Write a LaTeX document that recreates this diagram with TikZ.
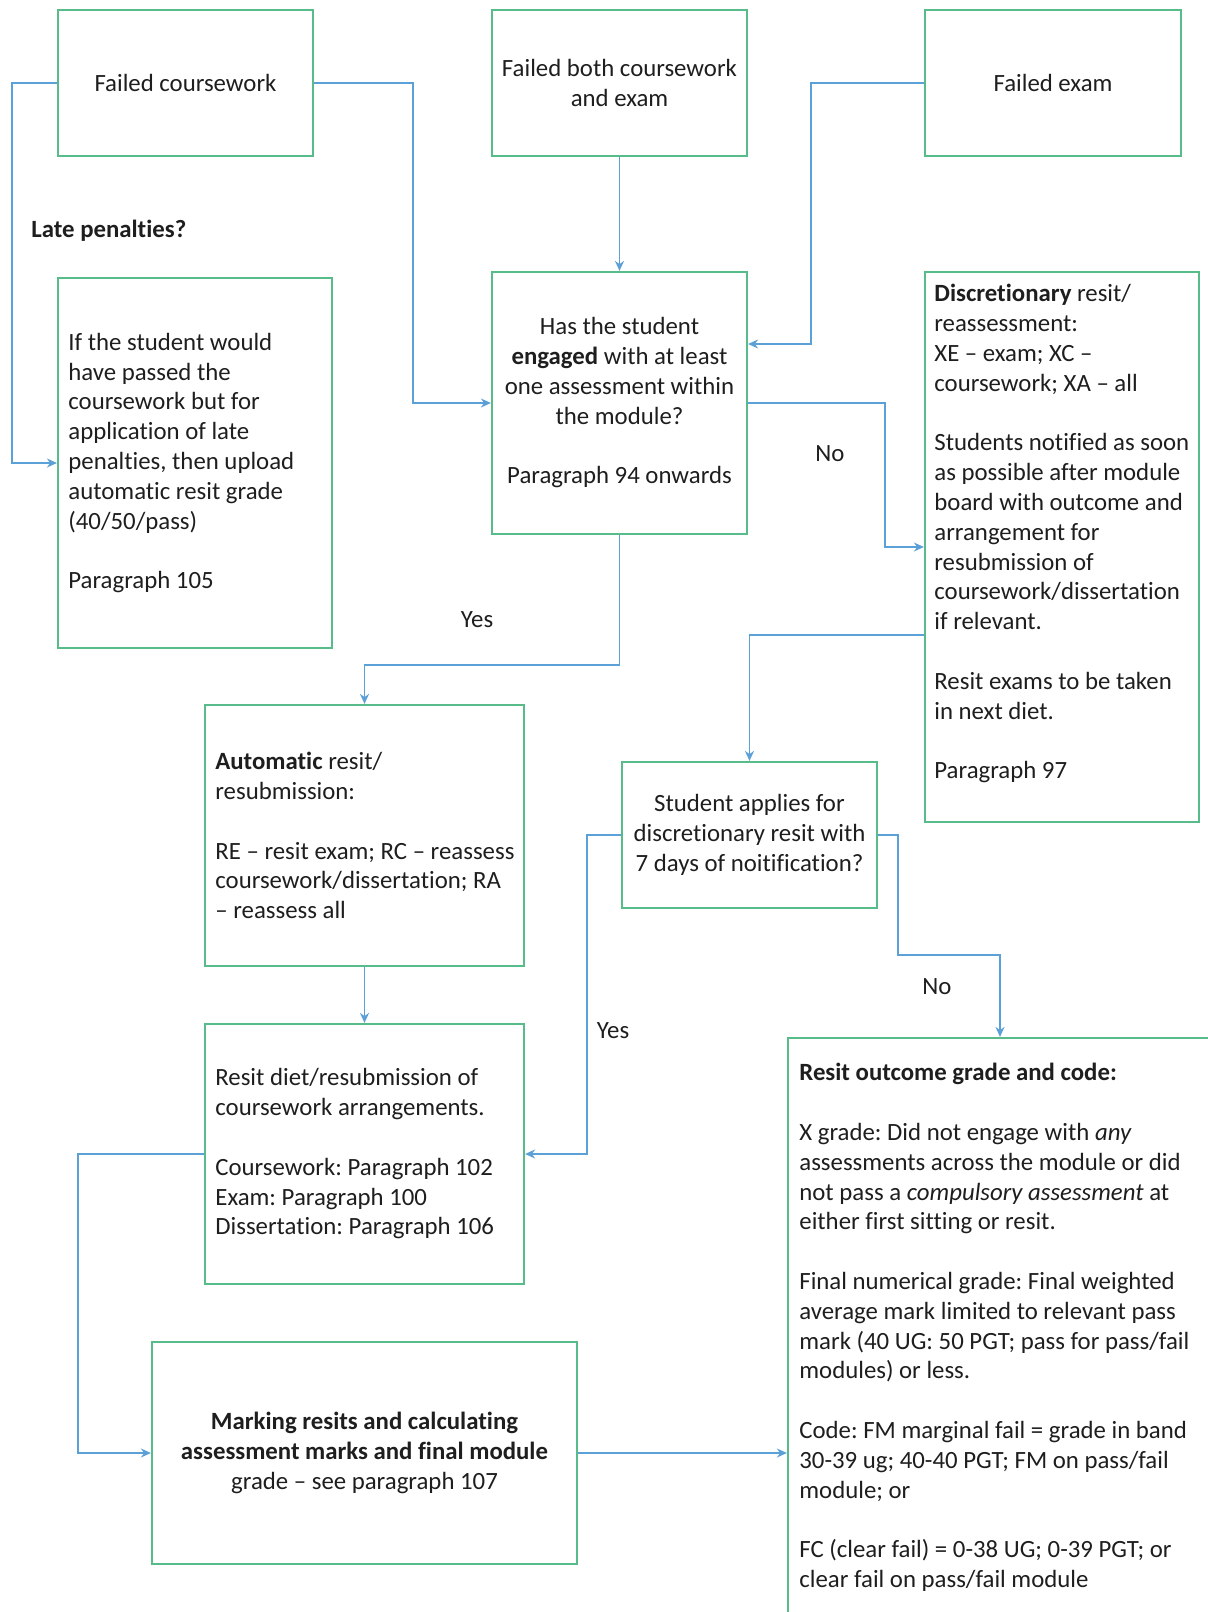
\documentclass[tikz,border=0pt]{standalone}
\usepackage{fontspec}
\setmainfont{Carlito}[Ligatures={TeX,NoCommon}]
\usetikzlibrary{arrows.meta}
\definecolor{boxgreen}{RGB}{87,187,138}
\definecolor{linkblue}{RGB}{91,160,215}
\definecolor{ink}{RGB}{30,30,30}
\frenchspacing
\begin{document}
\begin{tikzpicture}[x=0.5pt,y=-0.5pt,
  box/.style={draw=boxgreen,line width=1.1pt,inner sep=0pt,fill=white},
  txt/.style={text=ink,font=\fontsize{12.4}{14.9}\selectfont,inner sep=0pt},
  conn/.style={draw=linkblue,line width=0.8pt,-{Stealth[length=5pt,width=4.5pt]}},
  plain/.style={draw=linkblue,line width=0.8pt}]
\clip (0,0) rectangle (1208,1612);
\fill[white] (0,0) rectangle (1208,1612);

% boxes
\node[box,minimum width=127.5pt,minimum height=73pt] (fc) at (185.5,83) {};
\node[box,minimum width=127.5pt,minimum height=73pt] (fb) at (619.5,83) {};
\node[box,minimum width=128pt,minimum height=73pt] (fe) at (1053,83) {};
\node[box,minimum width=137pt,minimum height=185pt] (late) at (195,463) {};
\node[box,minimum width=127.5pt,minimum height=131pt] (eng) at (619.5,403) {};
\node[box,minimum width=137pt,minimum height=275pt] (disc) at (1062,547) {};
\node[box,minimum width=159.5pt,minimum height=130.5pt] (auto) at (364.5,835.5) {};
\node[box,minimum width=127.5pt,minimum height=73pt] (stud) at (749.5,835) {};
\node[box,minimum width=159.5pt,minimum height=130pt] (diet) at (364.5,1154) {};
\node[box,minimum width=212.5pt,minimum height=111pt] (mark) at (364.5,1453) {};
\node[box,minimum width=226pt,minimum height=306pt] (out) at (1014,1344) {};

% texts
\node[txt] (tfc) at (fc.center) {Failed coursework};
\node[txt,align=center] (tfb) at (fb.center) {Failed both coursework\\and exam};
\node[txt] (tfe) at (fe.center) {Failed exam};
\node[txt,anchor=west] (tlp) at (31,231) {\bfseries Late penalties?};
\node[txt,align=left,anchor=west] (tlate) at (68,463) {If the student would\\have passed the\\coursework but for\\application of late\\penalties, then upload\\automatic resit grade\\(40/50/pass)\\[14.9pt]Paragraph 105};
\node[txt,align=center] (teng) at (eng.center) {Has the student\\{\bfseries engaged} with at least\\one assessment within\\the module?\\[14.9pt]Paragraph 94 onwards};
\node[txt,align=left,anchor=north west] (tdisc) at (934,284) {{\bfseries Discretionary} resit/\\reassessment:\\XE – exam; XC –\\coursework; XA – all\\[14.9pt]Students notified as soon\\as possible after module\\board with outcome and\\arrangement for\\resubmission of\\coursework/dissertation\\if relevant.\\[14.9pt]Resit exams to be taken\\in next diet.\\[14.9pt]Paragraph 97};
\node[txt,align=left,anchor=west] (tauto) at (215,835.5) {{\bfseries Automatic} resit/\\resubmission:\\[14.9pt]RE – resit exam; RC – reassess\\coursework/dissertation; RA\\– reassess all};
\node[txt,align=center] (tstud) at (stud.center) {Student applies for\\discretionary resit with\\7 days of noitification?};
\node[txt,align=left,anchor=west] (tdiet) at (215,1154) {Resit diet/resubmission of\\coursework arrangements.\\[14.9pt]Coursework: Paragraph 102\\Exam: Paragraph 100\\Dissertation: Paragraph 106};
\node[txt,align=center] (tmark) at (mark.center) {{\bfseries Marking resits and calculating}\\{\bfseries assessment marks and final module}\\grade – see paragraph 107};
\node[txt,align=left,anchor=north west] (tout) at (799,1063) {{\bfseries Resit outcome grade and code:}\\[14.9pt]X grade: Did not engage with \emph{any}\\assessments across the module or did\\not pass a \emph{compulsory assessment} at\\either first sitting or resit.\\[14.9pt]Final numerical grade: Final weighted\\average mark limited to relevant pass\\mark (40 UG: 50 PGT; pass for pass/fail\\modules) or less.\\[14.9pt]Code: FM marginal fail = grade in band\\30-39 ug; 40-40 PGT; FM on pass/fail\\module; or\\[14.9pt]FC (clear fail) = 0-38 UG; 0-39 PGT; or\\clear fail on pass/fail module};

% labels
\node[txt] (lno1) at (830,454) {No};
\node[txt] (lyes1) at (477,620) {Yes};
\node[txt] (lyes2) at (613,1031) {Yes};
\node[txt] (lno2) at (937,987) {No};

% connectors
\draw[conn] (fc.west) -| (12,463) -- (late.west);
\draw[conn] (fc.east) -| (413,403) -- (eng.west);
\draw[conn] (fb.south) -- (eng.north);
\draw[conn] (fe.west) -| (811,344) -- (eng.east |- 0,344);
\draw[conn] (eng.east) -| (885,547) -- (disc.west);
\draw[conn] (eng.south) |- (364.5,665) -- (auto.north);
\draw[conn] (disc.west |- 0,635) -| (stud.north);
\draw[conn] (stud.east) -| (898,955) -| (1000,0 |- out.north);
\draw[conn] (stud.west) -| (587,1154) -- (diet.east);
\draw[conn] (auto.south) -- (diet.north);
\draw[conn] (diet.west) -| (78,1453) -- (mark.west);
\draw[conn] (mark.east) -- (out.west |- mark.east);
\end{tikzpicture}
\end{document}
